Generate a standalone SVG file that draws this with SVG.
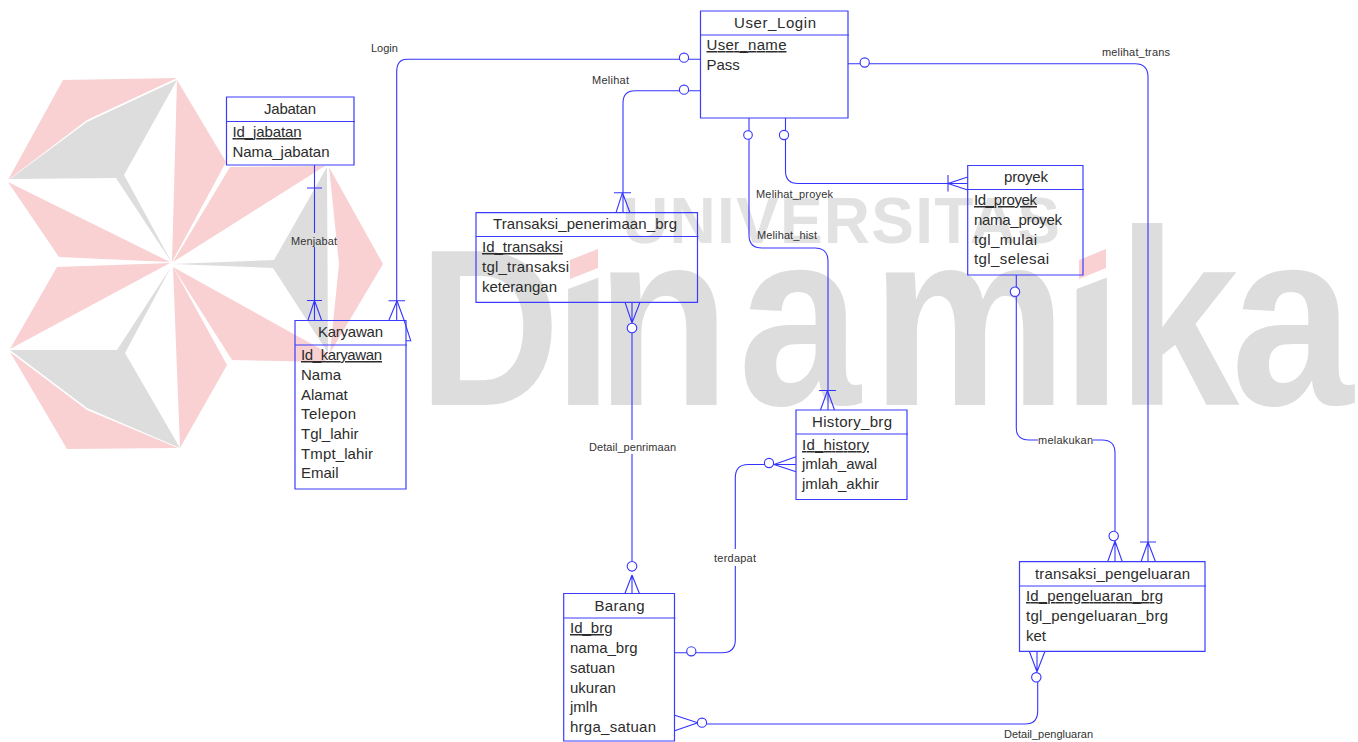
<svg xmlns="http://www.w3.org/2000/svg" width="1358" height="742" viewBox="0 0 1358 742">
<style>
.red{fill:#f9d1d3}
.gray{fill:#dddddd}
.box{fill:none;stroke:#3c3cff;stroke-width:1.2}
.con{fill:none;stroke:#3434ff;stroke-width:1.1}
.dot{fill:#fff;stroke:#3434ff;stroke-width:1.1}
text{font-family:"Liberation Sans",Arial,sans-serif;fill:#2c2c2c}
.t{font-size:15px;text-anchor:middle}
.a{font-size:15px}
.pk{font-size:15px;text-decoration:underline;text-decoration-thickness:1.5px}
.l{font-size:11px;fill:#333}
.wm{font-weight:700;fill:#dddddd}
</style>
<rect width="1358" height="742" fill="#fff"/>
<g id="watermark">
<polygon class="red" points="63,80 177,78 87,120 8,180"/>
<polygon class="gray" points="10,179 87,122 177,80 124,175 172,263 116,178"/>
<polygon class="red" points="177,80 226,162 172,262"/>
<polygon class="red" points="230,167 325,166 173,262"/>
<polygon class="gray" points="327,167 328,353 273,268 173,264 274,260"/>
<polygon class="red" points="329,167 383,264 330,353 339,264"/>
<polygon class="red" points="173,267 328,353 325,362 232,360"/>
<polygon class="red" points="173,267 227,365 180,448"/>
<polygon class="gray" points="10,350 117,350 171,267 125,353 180,448 87,408"/>
<polygon class="red" points="10,352 87,410 178,448 67,449"/>
<polygon class="red" points="10,349 57,267 170,263"/>
<polygon class="red" points="8,182 59,257 170,262"/>
<text class="wm" font-size="64" x="622" y="243" textLength="438" lengthAdjust="spacing" style="fill:#e2e2e2">UNIVERSITAS</text>
<text class="wm" transform="scale(.88 1)" y="405"><tspan font-size="222" x="476">D</tspan><tspan font-size="250" x="628 677 839 990 1206 1269 1399">inamika</tspan></text>
<polygon points="560,215 608,215 608,274 560,292" fill="#fff"/>
<polygon points="1069,215 1116,215 1116,274 1069,292" fill="#fff"/>
<polygon class="red" points="570,260 598,249 598,268 570,279"/>
<polygon class="red" points="1079,260 1106,249 1106,268 1079,279"/>
</g>
<g id="connectors">
<g id="rel-login">
<path class="con" d="M700,59.3H407Q396.7,59.3 396.7,72V320"/>
<path class="con" d="M388.5,300.7H405M397,300.7L389,320M397,300.7L404,320L410.7,340.7H406"/>
<circle class="dot" cx="684" cy="57.7" r="4.6"/>
<text class="l" x="371" y="52">Login</text>
</g>
<g id="rel-melihat">
<path class="con" d="M700,90.7H635Q623,90.7 623,103V212.7M614,192.7H631M622.5,192.7L616,212.7M622.5,192.7L630,212.7"/>
<circle class="dot" cx="684" cy="89.7" r="4.6"/>
<text class="l" x="592" y="84" textLength="37">Melihat</text>
</g>
<g id="rel-melihat-trans">
<path class="con" d="M848,63.7H1135Q1148,63.7 1148,77V561.7M1140,542H1156M1148,542L1141,561.7M1148,542L1155.5,561.7"/>
<circle class="dot" cx="864.7" cy="62.5" r="4.6"/>
<text class="l" x="1102" y="56" textLength="68">melihat_trans</text>
</g>
<g id="rel-melihat-hist">
<path class="con" d="M749,118V235Q749,248 762,248H815Q828,248 828,261V410M819,390.5H836M827.5,390.5L820.5,410M827.5,390.5L834.5,410"/>
<circle class="dot" cx="748" cy="135" r="4.3"/>
<text class="l" x="757" y="239" textLength="60">Melihat_hist</text>
</g>
<g id="rel-melihat-proyek">
<path class="con" d="M785.5,118V171Q785.5,183.5 798,183.5H967.7M948,175V191.5M948,183.5L967.7,177M948,183.5L967.7,190"/>
<circle class="dot" cx="784" cy="135" r="4.6"/>
<text class="l" x="756" y="198" textLength="77">Melihat_proyek</text>
</g>
<g id="rel-menjabat">
<path class="con" d="M314.5,165V233M314.5,247V320M307,188H322M307,300.5H322M314.5,300.5L308,320M314.5,300.5L321.5,320"/>
<text class="l" x="291" y="245" textLength="46">Menjabat</text>
</g>
<g id="rel-detail-penerimaan">
<path class="con" d="M625,302.3L632,323L640,302.3M632,302.3V323M632,333V440M632,454V561M632,575L625,593.3M632,575L639.3,593.3M632,575V593.3"/>
<circle class="dot" cx="632" cy="328" r="4.8"/>
<circle class="dot" cx="632" cy="566.3" r="4.8"/>
<text class="l" x="589" y="451" textLength="87">Detail_penrimaan</text>
</g>
<g id="rel-terdapat">
<path class="con" d="M674.5,652.7H722Q735.3,652.7 735.3,640V566M735.3,549V478Q735.3,464.5 748,464.5H774M774,464.5L796,456.7M774,464.5L796,471.7M774,464.5H796"/>
<circle class="dot" cx="691.3" cy="651.3" r="4.6"/>
<circle class="dot" cx="769" cy="463" r="4.6"/>
<text class="l" x="714" y="562" textLength="42">terdapat</text>
</g>
<g id="rel-detail-pengeluaran">
<path class="con" d="M674.7,715.3L697.7,722.7L674.7,730.7M707,724H1025Q1037.7,724 1037.7,711V682M1037,671.7L1029.3,651.3M1037,671.7L1045,651.3M1037,671.7V651.3"/>
<circle class="dot" cx="702" cy="722.7" r="4.6"/>
<circle class="dot" cx="1036.3" cy="677.3" r="4.7"/>
<text class="l" x="1004" y="738" textLength="89">Detail_pengluaran</text>
</g>
<g id="rel-melakukan">
<path class="con" d="M1016.3,275V428Q1016.3,440 1029,440H1038M1093,440H1102Q1115,440 1115,453V531M1115,541L1107.7,561.7M1115,541L1122.3,561.7M1115,541V561.7"/>
<circle class="dot" cx="1015" cy="291.7" r="4.7"/>
<circle class="dot" cx="1113.7" cy="536" r="4.7"/>
<text class="l" x="1038" y="444" textLength="55">melakukan</text>
</g>
</g>
<g id="User_Login">
<path class="box" d="M700.5,11H848V118H700.5ZM700.5,35H849"/>
<text class="t" x="775" y="28" textLength="82">User_Login</text>
<text class="pk" x="706.5" y="50" textLength="80">User_name</text>
<text class="a" x="706.5" y="70">Pass</text>
</g>
<g id="Jabatan">
<path class="box" d="M226.5,97H354V165H226.5ZM226.5,121.5H355"/>
<text class="t" x="290" y="114" textLength="52">Jabatan</text>
<text class="pk" x="232.5" y="137" textLength="69">Id_jabatan</text>
<text class="a" x="232.5" y="157" textLength="97">Nama_jabatan</text>
</g>
<g id="Karyawan">
<path class="box" d="M295,320.5H406V489H295ZM295,345H407"/>
<text class="t" x="350.5" y="337" textLength="65">Karyawan</text>
<text class="pk" x="301" y="360" textLength="81">Id_karyawan</text>
<text class="a" x="301" y="380">Nama</text>
<text class="a" x="301" y="400">Alamat</text>
<text class="a" x="301" y="419" textLength="55">Telepon</text>
<text class="a" x="301" y="439">Tgl_lahir</text>
<text class="a" x="301" y="459" textLength="72">Tmpt_lahir</text>
<text class="a" x="301" y="478">Email</text>
</g>
<g id="Transaksi_penerimaan_brg">
<path class="box" d="M476,212.7H697.5V302.3H476ZM476,236.5H698.5"/>
<text class="t" x="585" y="229" textLength="184">Transaksi_penerimaan_brg</text>
<text class="pk" x="482" y="252">Id_transaksi</text>
<text class="a" x="482" y="272" textLength="87">tgl_transaksi</text>
<text class="a" x="482" y="292">keterangan</text>
</g>
<g id="proyek">
<path class="box" d="M967.7,165.5H1083V275H967.7ZM967.7,189.5H1084"/>
<text class="t" x="1026" y="182" textLength="44">proyek</text>
<text class="pk" x="974" y="205" textLength="63">Id_proyek</text>
<text class="a" x="974" y="225" textLength="88">nama_proyek</text>
<text class="a" x="974" y="245" textLength="63">tgl_mulai</text>
<text class="a" x="974" y="264" textLength="75">tgl_selesai</text>
</g>
<g id="History_brg">
<path class="box" d="M796,410H907V499.5H796ZM796,434H908"/>
<text class="t" x="852" y="427" textLength="80">History_brg</text>
<text class="pk" x="802" y="450" textLength="67">Id_history</text>
<text class="a" x="802" y="469">jmlah_awal</text>
<text class="a" x="802" y="489" textLength="77">jmlah_akhir</text>
</g>
<g id="Barang">
<path class="box" d="M563.7,593.5H674.5V741H563.7ZM563.7,618H675.5"/>
<text class="t" x="619.5" y="611" textLength="50">Barang</text>
<text class="pk" x="570" y="633">Id_brg</text>
<text class="a" x="570" y="653">nama_brg</text>
<text class="a" x="570" y="673">satuan</text>
<text class="a" x="570" y="693">ukuran</text>
<text class="a" x="570" y="712">jmlh</text>
<text class="a" x="570" y="732" textLength="86">hrga_satuan</text>
</g>
<g id="transaksi_pengeluaran">
<path class="box" d="M1019.5,561.7H1205V651.3H1019.5ZM1019.5,586H1206"/>
<text class="t" x="1112.5" y="579" textLength="155">transaksi_pengeluaran</text>
<text class="pk" x="1026" y="601" textLength="137">Id_pengeluaran_brg</text>
<text class="a" x="1026" y="621" textLength="142">tgl_pengeluaran_brg</text>
<text class="a" x="1026" y="641">ket</text>
</g>
</svg>
